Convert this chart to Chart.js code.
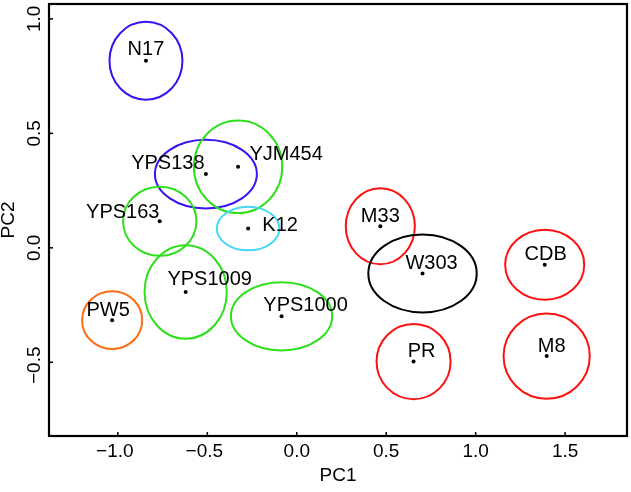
<!DOCTYPE html>
<html>
<head>
<meta charset="utf-8">
<script src="https://cdn.jsdelivr.net/npm/chart.js@4.4.1/dist/chart.umd.min.js"></script>
<style>
  html, body { margin: 0; padding: 0; background: #fff; }
  #wrap { width: 631px; height: 492px; }
</style>
</head>
<body>
<div id="wrap"><canvas id="pca"></canvas></div>
<script>
  // strains and their PCA scores
  var strains = ['N17', 'YPS138', 'YJM454', 'YPS163', 'K12', 'YPS1009', 'YPS1000',
                 'PW5', 'M33', 'W303', 'CDB', 'PR', 'M8'];
  var pc1 = [-0.843, -0.508, -0.328, -0.766, -0.272, -0.621, -0.085,
             -1.032, 0.467, 0.703, 1.386, 0.653, 1.397];
  var pc2 = [0.817, 0.322, 0.354, 0.116, 0.084, -0.193, -0.299,
             -0.316, 0.094, -0.112, -0.074, -0.497, -0.473];
  // ellipse half-widths (spread) along each component
  var spreadPC1 = [0.204, 0.285, 0.247, 0.205, 0.175, 0.230, 0.283,
                   0.168, 0.193, 0.303, 0.221, 0.207, 0.241];
  var spreadPC2 = [0.170, 0.150, 0.202, 0.151, 0.095, 0.204, 0.149,
                   0.126, 0.166, 0.170, 0.153, 0.164, 0.186];
  var groups = ['blue', 'blue', 'green', 'green', 'cyan', 'green', 'green',
                'orange', 'red', 'black', 'red', 'red', 'red'];

  var xTicks = [-1.0, -0.5, 0.0, 0.5, 1.0, 1.5];
  var yTicks = [-0.5, 0.0, 0.5, 1.0];

  var GROUP_COLORS = {
    blue: '#3a14f0',
    green: '#2ee01c',
    cyan: '#44d8f2',
    orange: '#ff6a12',
    red: '#ff1010',
    black: '#000000'
  };

  // label placement relative to the point, in pixels
  var LABEL_SHIFT = [[0, -11], [-38, -11], [48, -12], [-37, -9], [32, -3], [24, -13], [24, -11],
                     [-4, -10], [0, -10], [9, -10], [1, -10], [8, -10], [5, -10]];

  var FONT = '"Liberation Sans", Arial, Helvetica, sans-serif';

  function fmt(v) {
    var s = Math.abs(v).toFixed(1);
    return v < 0 ? '\u2212' + s : s;
  }

  var ellipsePlugin = {
    id: 'ellipses',
    beforeDatasetsDraw: function(chart) {
      var ctx = chart.ctx;
      var xs = chart.scales.x, ys = chart.scales.y;
      ctx.save();
      ctx.lineWidth = 2;
      for (var i = 0; i < strains.length; i++) {
        var cx = xs.getPixelForValue(pc1[i]);
        var cy = ys.getPixelForValue(pc2[i]);
        var rx = Math.abs(xs.getPixelForValue(pc1[i] + spreadPC1[i]) - cx);
        var ry = Math.abs(ys.getPixelForValue(pc2[i] + spreadPC2[i]) - cy);
        ctx.strokeStyle = GROUP_COLORS[groups[i]];
        ctx.beginPath();
        ctx.ellipse(cx, cy, rx, ry, 0, 0, Math.PI * 2);
        ctx.stroke();
      }
      ctx.restore();
    },
    afterDatasetsDraw: function(chart) {
      var ctx = chart.ctx;
      var xs = chart.scales.x, ys = chart.scales.y;
      var area = chart.chartArea;
      ctx.save();

      // strain labels
      ctx.fillStyle = '#000';
      ctx.font = '20px ' + FONT;
      ctx.textAlign = 'center';
      ctx.textBaseline = 'middle';
      for (var i = 0; i < strains.length; i++) {
        ctx.fillText(strains[i],
          xs.getPixelForValue(pc1[i]) + LABEL_SHIFT[i][0],
          ys.getPixelForValue(pc2[i]) + LABEL_SHIFT[i][1]);
      }

      // frame
      ctx.strokeStyle = '#000';
      ctx.lineWidth = 2.2;
      ctx.strokeRect(area.left, area.top, area.right - area.left, area.bottom - area.top);

      // ticks + tick labels
      ctx.lineWidth = 1.5;
      ctx.font = '19px ' + FONT;
      xTicks.forEach(function(t) {
        var px = xs.getPixelForValue(t);
        ctx.beginPath();
        ctx.moveTo(px, area.bottom);
        ctx.lineTo(px, area.bottom - 4);
        ctx.stroke();
        ctx.fillText(fmt(t), px - (t < 0 ? 3 : 0), 452);
      });
      yTicks.forEach(function(t) {
        var py = ys.getPixelForValue(t);
        ctx.beginPath();
        ctx.moveTo(area.left, py);
        ctx.lineTo(area.left + 4, py);
        ctx.stroke();
        ctx.save();
        ctx.translate(35, py + (t < 0 ? 3 : 0));
        ctx.rotate(-Math.PI / 2);
        ctx.fillText(fmt(t), 0, 0);
        ctx.restore();
      });

      // axis titles
      ctx.fillText('PC1', (area.left + area.right) / 2, 476);
      ctx.save();
      ctx.translate(9, (area.top + area.bottom) / 2);
      ctx.rotate(-Math.PI / 2);
      ctx.fillText('PC2', 0, 0);
      ctx.restore();

      ctx.restore();
    }
  };

  var points = strains.map(function(s, i) { return { x: pc1[i], y: pc2[i] }; });

  new Chart(document.getElementById('pca'), {
    type: 'scatter',
    data: {
      datasets: [{
        data: points,
        backgroundColor: '#000',
        borderColor: '#000',
        pointRadius: 2,
        pointBorderWidth: 0
      }]
    },
    options: {
      responsive: true,
      maintainAspectRatio: false,
      animation: false,
      layout: { padding: { left: 49, right: 3, top: 2, bottom: 56 } },
      plugins: { legend: { display: false }, tooltip: { enabled: false } },
      scales: {
        x: { type: 'linear', min: -1.385, max: 1.846, display: false },
        y: { type: 'linear', min: -0.822, max: 1.065, display: false }
      }
    },
    plugins: [ellipsePlugin]
  });
</script>
</body>
</html>
